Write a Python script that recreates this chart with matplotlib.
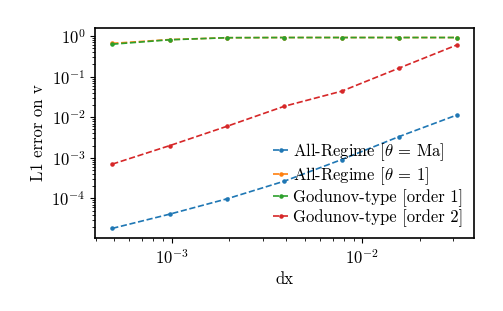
import matplotlib
matplotlib.use("Agg")
import matplotlib.pyplot as plt
from matplotlib.ticker import LogLocator, NullFormatter

plt.rcParams['font.family'] = 'serif'
plt.rcParams['font.serif'] = ['cmr10', 'DejaVu Serif']
plt.rcParams['mathtext.fontset'] = 'cm'
plt.rcParams['axes.formatter.use_mathtext'] = True
plt.rcParams['axes.linewidth'] = 1.2

# mesh sizes (1/2048 ... 1/32)
dx = [1/2048, 1/1024, 1/512, 1/256, 1/128, 1/64, 1/32]

# L1 errors
err_ar_ma = [1.83e-5, 4.1e-5, 9.8e-5, 2.67e-4, 9.1e-4, 3.35e-3, 1.13e-2]
err_ar_one = [0.66, 0.82, 0.91, 0.92, 0.92, 0.92, 0.92]
err_god1 = [0.63, 0.81, 0.91, 0.92, 0.92, 0.92, 0.92]
err_god2 = [7.0e-4, 2.0e-3, 6.0e-3, 1.87e-2, 4.4e-2, 0.163, 0.60]

labels = [r'All-Regime [$\theta$ = Ma]', r'All-Regime [$\theta$ = 1]',
          'Godunov-type [order 1]', 'Godunov-type [order 2]']

fig = plt.figure(figsize=(5.03, 3.11), dpi=100)
ax = fig.add_axes([0.189, 0.235, 0.753, 0.675])

for err, lab in zip([err_ar_ma, err_ar_one, err_god1, err_god2], labels):
    ax.plot(dx, err, '.--', lw=1.2, ms=4.5, label=lab)

ax.set_xscale('log')
ax.set_yscale('log')
ax.yaxis.set_minor_locator(LogLocator(base=10, subs=range(2, 10), numticks=100))
ax.yaxis.set_minor_formatter(NullFormatter())
ax.set_xlabel('dx', fontsize=12)
ax.set_ylabel('L1 error on v', fontsize=12)
ax.tick_params(labelsize=12)
ax.legend(loc='lower right', fontsize=12, frameon=False, handlelength=1.0,
          handletextpad=0.2, borderaxespad=0.25, labelspacing=0.14)

fig.savefig('out.png', dpi=100)
